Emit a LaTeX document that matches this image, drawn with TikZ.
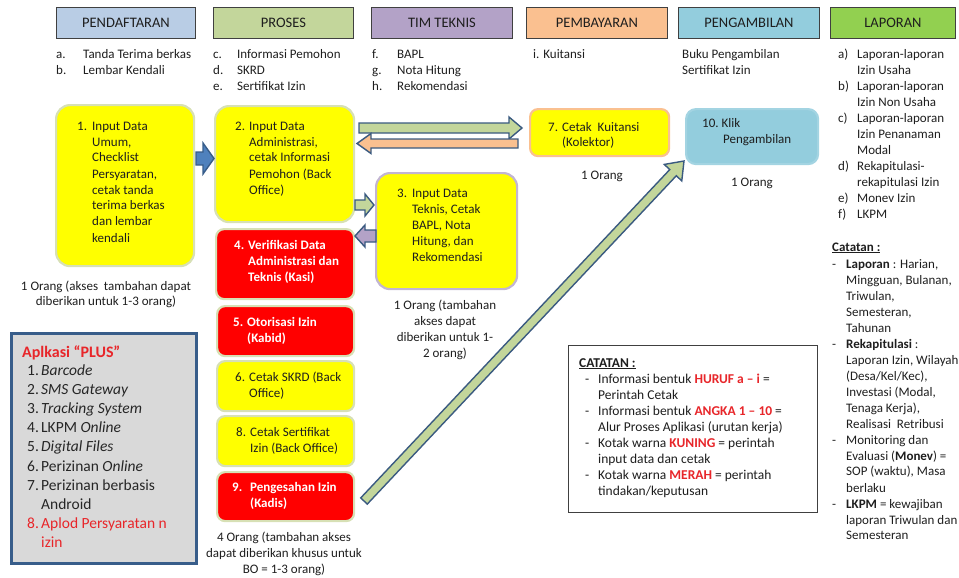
\documentclass[tikz,border=0pt]{standalone}
\usepackage{fontspec}
\setmainfont{Carlito}
\usetikzlibrary{calc}
\definecolor{hblue}{HTML}{B9CDE5}
\definecolor{hgreen}{HTML}{C3D69B}
\definecolor{hpurple}{HTML}{B3A2C7}
\definecolor{horange}{HTML}{FAC090}
\definecolor{hcyan}{HTML}{93CDDD}
\definecolor{hlime}{HTML}{92D050}
\definecolor{byellow}{HTML}{FFFF00}
\definecolor{bred}{HTML}{FF0000}
\definecolor{bedge}{HTML}{D7E0B5}
\definecolor{pgrey}{HTML}{D9D9D9}
\definecolor{pedge}{HTML}{385D8A}
\definecolor{tx}{HTML}{1E1E1E}
\definecolor{rt}{HTML}{E8262A}
\definecolor{aedge}{HTML}{3A5A80}
\definecolor{ablue}{HTML}{4F81BD}
\newcommand\nb[2]{\makebox[#1][l]{#2}}
\newcommand\lst[1]{\begin{tabular}[t]{@{}l@{}}#1\end{tabular}}
\newcommand\clst[1]{\begin{tabular}[t]{@{}c@{}}#1\end{tabular}}
\newcommand\blockarrow[6]{%
  \coordinate (ban) at ($(#3)!#6!(#2)$);
  \draw[#1] ($(#2)!#4!90:(#3)$) -- ($(ban)!#4!90:(#3)$) -- ($(ban)!#5!90:(#3)$) -- (#3)
    -- ($(ban)!#5!-90:(#3)$) -- ($(ban)!#4!-90:(#3)$) -- ($(#2)!#4!-90:(#3)$) -- cycle;}
\newcommand\boxat[6]{%
  \node[box,#6,minimum width={(#4-#2)*1pt},minimum height={(#5-#3)*1pt}] (#1) at (#2,#3) {};}
\tikzset{
  hdr/.style={draw=black!75, line width=0.9pt, minimum height=31pt, text=tx,
    font=\fontsize{14.5}{17}\selectfont, inner sep=0, anchor=north west},
  box/.style={draw=bedge, line width=2.2pt, inner sep=0, anchor=north west},
  ybox/.style={fill=byellow, rounded corners=14pt},
  rbox/.style={fill=bred, rounded corners=8pt},
  txt/.style={text=tx, inner sep=0, anchor=base west, font=\fontsize{13}{16}\selectfont},
  ctxt/.style={text=tx, inner sep=0, anchor=base, font=\fontsize{13}{15}\selectfont},
  wtxt/.style={text=white, inner sep=0, anchor=base west, font=\fontsize{13}{16}\selectfont\bfseries},
  arr/.style={line width=1.4pt, draw=aedge, line join=miter},
}
\begin{document}
\begin{tikzpicture}[x=1pt,y=-1pt]
\useasboundingbox (0,0) rectangle (959,578);
% headers
\node[hdr, fill=hblue, minimum width=139pt] (h1) at (56,7) {PENDAFTARAN};
\node[hdr, fill=hgreen, minimum width=140pt] (h2) at (213,7) {PROSES};
\node[hdr, fill=hpurple, minimum width=141pt] (h3) at (371,7) {TIM TEKNIS};
\node[hdr, fill=horange, minimum width=141pt] (h4) at (526,7) {PEMBAYARAN};
\node[hdr, fill=hcyan, minimum width=141pt] (h5) at (678,7) {PENGAMBILAN};
\node[hdr, fill=hlime, minimum width=125pt] (h6) at (830,7) {LAPORAN};
% header lists
\node[txt] (l1) at (56,59) {\lst{\nb{27pt}{a.}Tanda Terima berkas\\ \nb{27pt}{b.}Lembar Kendali}};
\node[txt] (l2) at (213,59) {\lst{\nb{24pt}{c.}Informasi Pemohon\\ \nb{24pt}{d.}SKRD\\ \nb{24pt}{e.}Sertifikat Izin}};
\node[txt] (l3) at (372,59) {\lst{\nb{25pt}{f.}BAPL\\ \nb{25pt}{g.}Nota Hitung\\ \nb{25pt}{h.}Rekomendasi}};
\node[txt] (l4) at (533,59) {i. Kuitansi};
\node[txt] (l5) at (682,59) {\lst{Buku Pengambilan\\ Sertifikat Izin}};
\node[txt] (l6) at (838,59) {\lst{\nb{19pt}{a)}Laporan-laporan\\ \nb{19pt}{}Izin Usaha\\
  \nb{19pt}{b)}Laporan-laporan\\ \nb{19pt}{}Izin Non Usaha\\
  \nb{19pt}{c)}Laporan-laporan\\ \nb{19pt}{}Izin Penanaman\\ \nb{19pt}{}Modal\\
  \nb{19pt}{d)}Rekapitulasi-\\ \nb{19pt}{}rekapitulasi Izin\\
  \nb{19pt}{e)}Monev Izin\\ \nb{19pt}{f)}LKPM}};
\node[txt] (l7) at (832,251) {\lst{\underline{\textbf{Catatan :}}\\[1pt]
  \nb{14pt}{-}\textbf{Laporan} : Harian,\\ \nb{14pt}{}Mingguan, Bulanan,\\ \nb{14pt}{}Triwulan,\\
  \nb{14pt}{}Semesteran,\\ \nb{14pt}{}Tahunan\\
  \nb{14pt}{-}\textbf{Rekapitulasi} :\\ \nb{14pt}{}Laporan Izin, Wilayah\\ \nb{14pt}{}(Desa/Kel/Kec),\\
  \nb{14pt}{}Investasi (Modal,\\ \nb{14pt}{}Tenaga Kerja),\\ \nb{14pt}{}Realisasi\ \ Retribusi\\
  \nb{14pt}{-}Monitoring dan\\ \nb{14pt}{}Evaluasi (\textbf{Monev}) =\\ \nb{14pt}{}SOP (waktu), Masa\\
  \nb{14pt}{}berlaku\\
  \nb{14pt}{-}\textbf{LKPM} = kewajiban\\ \nb{14pt}{}laporan Triwulan dan\\ \nb{14pt}{}Semesteran}};
% boxes
\boxat{b1}{55}{104}{193}{265}{ybox}
\boxat{b2}{214}{105}{353}{221}{ybox}
\boxat{b4}{215}{228}{353}{298}{rbox}
\boxat{b5}{216}{305}{353}{355}{rbox}
\boxat{b6}{216}{360}{353}{410}{ybox, rounded corners=8pt}
\boxat{b8}{216}{415}{353}{465}{ybox, rounded corners=8pt}
\boxat{b9}{216}{471}{353}{520}{rbox}
\boxat{b3}{375}{172}{516}{288}{ybox, draw=hpurple!80!white}
\boxat{b7}{529}{108}{668}{155}{ybox, rounded corners=8pt, draw=horange}
\boxat{b10}{685}{108}{817}{163}{fill=hcyan, draw=hcyan!85!white, rounded corners=10pt}
% box texts
\node[txt] (t1) at (77,130) {\lst{\nb{15pt}{1.}Input Data\\ \nb{15pt}{}Umum,\\ \nb{15pt}{}Checklist\\
  \nb{15pt}{}Persyaratan,\\ \nb{15pt}{}cetak tanda\\ \nb{15pt}{}terima berkas\\ \nb{15pt}{}dan lembar\\ \nb{15pt}{}kendali}};
\node[txt] (t2) at (235,130) {\lst{\nb{14pt}{2.}Input Data\\ \nb{14pt}{}Administrasi,\\ \nb{14pt}{}cetak Informasi\\
  \nb{14pt}{}Pemohon (Back\\ \nb{14pt}{}Office)}};
\node[wtxt] (t4) at (234,249) {\lst{\nb{14pt}{4.}Verifikasi Data\\ \nb{14pt}{}Administrasi dan\\ \nb{14pt}{}Teknis (Kasi)}};
\node[wtxt] (t5) at (233,326) {\lst{\nb{14pt}{5.}Otorisasi Izin\\ \nb{14pt}{}(Kabid)}};
\node[txt] (t6) at (235,381) {\lst{\nb{14pt}{6.}Cetak SKRD (Back\\ \nb{14pt}{}Office)}};
\node[txt] (t8) at (236,436) {\lst{\nb{14pt}{8.}Cetak Sertifikat\\ \nb{14pt}{}Izin (Back Office)}};
\node[wtxt] (t9) at (232,491) {\lst{\nb{18pt}{9.}Pengesahan Izin\\ \nb{18pt}{}(Kadis)}};
\node[txt] (t3) at (397,197) {\lst{\nb{15pt}{3.}Input Data\\ \nb{15pt}{}Teknis, Cetak\\ \nb{15pt}{}BAPL, Nota\\
  \nb{15pt}{}Hitung, dan\\ \nb{15pt}{}Rekomendasi}};
\node[txt] (t7) at (548,131) {\lst{\nb{14pt}{7.}Cetak\ \ Kuitansi\\ \nb{14pt}{}(Kolektor)}};
\node[txt] (t10) at (702,127) {\lst{10.\ Klik\\[1pt] \nb{21pt}{}Pengambilan}};
% captions
\node[ctxt] (c1) at (106,290) {\clst{1 Orang (akses\ \ tambahan dapat\\ diberikan untuk 1-3 orang)}};
\node[ctxt] (c3) at (445,309) {\begin{tabular}[t]{@{}c@{}}1 Orang (tambahan\\[1pt] akses dapat\\[1pt] diberikan untuk 1-\\[1pt] 2 orang)\end{tabular}};
\node[ctxt] (c7) at (602,179) {1 Orang};
\node[ctxt] (c10) at (752,186) {1 Orang};
\node[ctxt] (c9) at (284,541) {\begin{tabular}[t]{@{}c@{}}4 Orang (tambahan akses\\[1pt] dapat diberikan khusus untuk\\[1pt] BO = 1-3 orang)\end{tabular}};
% Aplikasi PLUS box
\node[draw=pedge, fill=pgrey, line width=2.8pt, inner sep=0, anchor=north west,
  minimum width=185pt, minimum height=230pt] (plus) at (10,332) {};
\node[text=rt, inner sep=0, anchor=base west, font=\fontsize{16}{19}\selectfont\bfseries] (pt) at (22,357) {Aplkasi “PLUS”};
\node[txt, font=\fontsize{15.5}{19.2}\selectfont, text=black!85] (pl) at (27,375) {\lst{%
  \nb{14pt}{1.}\textit{Barcode}\\ \nb{14pt}{2.}\textit{SMS Gateway}\\ \nb{14pt}{3.}\textit{Tracking System}\\
  \nb{14pt}{4.}LKPM \textit{Online}\\ \nb{14pt}{5.}\textit{Digital Files}\\ \nb{14pt}{6.}Perizinan \textit{Online}\\
  \nb{14pt}{7.}Perizinan berbasis\\ \nb{14pt}{}Android\\
  \textcolor{rt}{\nb{14pt}{8.}Aplod Persyaratan n}\\ \textcolor{rt}{\nb{14pt}{}izin}}};
% CATATAN box
\node[draw=black!75, fill=white, line width=1pt, inner sep=0, anchor=north west,
  minimum width=249pt, minimum height=167pt] (cat) at (568,345) {};
\node[txt, font=\fontsize{13.5}{16.1}\selectfont] (ct) at (579,367) {\lst{\underline{\textbf{CATATAN :}}\\
  \hspace*{6pt}\nb{13pt}{-}Informasi bentuk \textcolor{rt}{\textbf{HURUF a – i}} =\\ \hspace*{6pt}\nb{13pt}{}Perintah Cetak\\
  \hspace*{6pt}\nb{13pt}{-}Informasi bentuk \textcolor{rt}{\textbf{ANGKA 1 – 10}} =\\ \hspace*{6pt}\nb{13pt}{}Alur Proses Aplikasi (urutan kerja)\\
  \hspace*{6pt}\nb{13pt}{-}Kotak warna \textcolor{rt}{\textbf{KUNING}} = perintah\\ \hspace*{6pt}\nb{13pt}{}input data dan cetak\\
  \hspace*{6pt}\nb{13pt}{-}Kotak warna \textcolor{rt}{\textbf{MERAH}} = perintah\\ \hspace*{6pt}\nb{13pt}{}tindakan/keputusan}};
% block arrows
\coordinate (a1s) at (196,158.5); \coordinate (a1e) at (214,158.5);
\blockarrow{arr, fill=ablue, draw=pedge}{a1s}{a1e}{6.5pt}{15.5pt}{11pt}
\coordinate (a2s) at (359,128); \coordinate (a2e) at (522,128);
\blockarrow{arr, fill=hgreen}{a2s}{a2e}{5pt}{11pt}{13pt}
\coordinate (a3s) at (518,143.5); \coordinate (a3e) at (357,143.5);
\blockarrow{arr, fill=horange}{a3s}{a3e}{4.5pt}{10pt}{14pt}
\coordinate (a4s) at (355,205); \coordinate (a4e) at (374,205);
\blockarrow{arr, fill=hgreen}{a4s}{a4e}{5pt}{11pt}{9pt}
\coordinate (a5s) at (376,236); \coordinate (a5e) at (355,236);
\blockarrow{arr, fill=hpurple}{a5s}{a5e}{6pt}{11pt}{10pt}
\coordinate (a6s) at (364,501); \coordinate (a6e) at (684,161);
\blockarrow{arr, fill=hgreen}{a6s}{a6e}{4.5pt}{12pt}{16pt}
\end{tikzpicture}
\end{document}
